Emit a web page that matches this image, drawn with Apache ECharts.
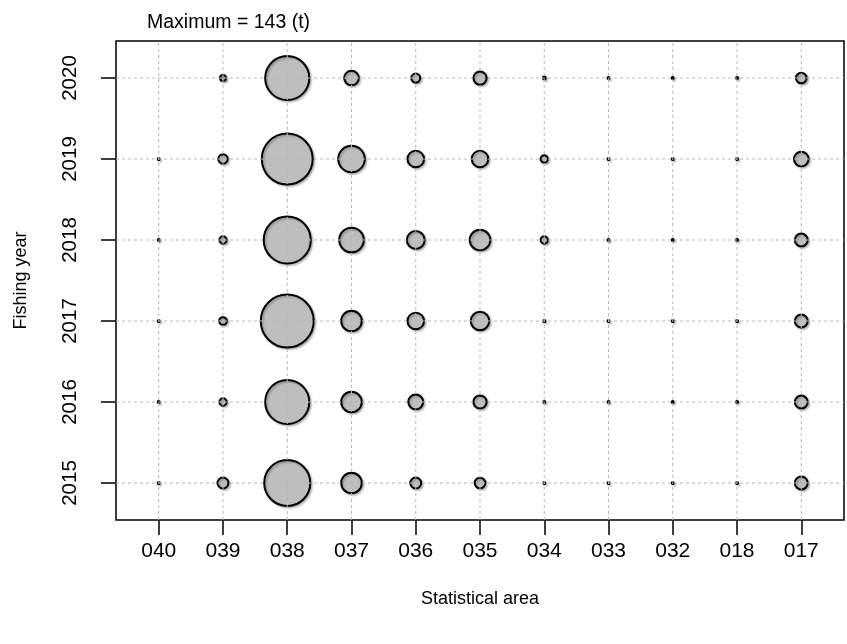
<!DOCTYPE html>
<html>
<head>
<meta charset="utf-8">
<script src="https://cdn.jsdelivr.net/npm/echarts@6/dist/echarts.min.js"></script>
<style>
  html, body { margin: 0; padding: 0; background: #fff; }
  #chart { width: 847px; height: 644px; }
</style>
</head>
<body>
<div id="chart"></div>
<script>
// Statistical areas along the x axis (left to right)
const areas = ['040', '039', '038', '037', '036', '035', '034', '033', '032', '018', '017'];
// Fishing years along the y axis
const years = [2015, 2016, 2017, 2018, 2019, 2020];

// Catch (t) per statistical area, one array per fishing year (null = no catch)
const catch2015 = [0.2, 6.1, 108, 21.6, 6.1, 5.8, 0.2, 0.2, 0.2, 0.2, 8.5];
const catch2016 = [0.2, 2.7, 99, 21.6, 11.3, 8.9, 0.2, 0.2, 0.2, 0.2, 8.5];
const catch2017 = [0.2, 3.0, 143, 21.6, 14, 17.6, 0.25, 0.2, 0.2, 0.2, 8.5];
const catch2018 = [0.2, 2.7, 113, 30.7, 16.3, 21.6, 2.7, 0.2, 0.2, 0.2, 8.5];
const catch2019 = [0.2, 4.4, 132, 35.9, 14, 14, 2.7, 0.2, 0.2, 0.2, 10.9];
const catch2020 = [null, 1.8, 99, 10.9, 4.1, 8.9, 0.4, 0.2, 0.2, 0.2, 5.8];

const catchByYear = [catch2015, catch2016, catch2017, catch2018, catch2019, catch2020];

const points = [];
catchByYear.forEach((row, yi) => {
  row.forEach((v, xi) => {
    if (v !== null && v > 0) points.push([xi, years[yi], v]);
  });
});
const maxCatch = Math.max(...points.map(p => p[2]));

// bubble area proportional to catch
const maxDiameter = 53;
const sizeOf = v => maxDiameter * Math.sqrt(v / maxCatch);

const font = "'Liberation Sans', Arial, Helvetica, sans-serif";
const areaIdx = areas.map((_, i) => i);

// axis extents (a little padding around the outer categories)
const xMin = -0.665, xMax = areas.length - 1 + 0.665;
const yMin = years[0] - 0.457, yMax = years[years.length - 1] + 0.457;

const gridStyle = { color: '#b8b8b8', width: 1, type: [3, 3] };
const gridSeries = areaIdx.map(i => ({
  type: 'line', z: 3, silent: true, symbol: 'none',
  lineStyle: gridStyle, data: [[i, yMin], [i, yMax]]
})).concat(years.map(y => ({
  type: 'line', z: 3, silent: true, symbol: 'none',
  lineStyle: gridStyle, data: [[xMin, y], [xMax, y]]
})));

const chart = echarts.init(document.getElementById('chart'), null, { renderer: 'canvas' });
chart.setOption({
  animation: false,
  backgroundColor: '#ffffff',
  title: {
    text: 'Maximum = ' + Math.round(maxCatch) + ' (t)',
    left: 142,
    top: 8,
    textStyle: { fontFamily: font, fontSize: 19.5, fontWeight: 'normal', color: '#000' }
  },
  grid: {
    left: 116, right: 3, top: 41, bottom: 124,
    show: true, borderColor: '#000', borderWidth: 1.5, backgroundColor: 'transparent'
  },
  xAxis: {
    type: 'value',
    position: 'bottom',
    min: xMin, max: xMax,
    name: 'Statistical area',
    nameLocation: 'middle',
    nameGap: 70,
    nameTextStyle: { fontFamily: font, fontSize: 18, color: '#000' },
    axisLine: { show: false, onZero: false },
    splitLine: { show: false },
    axisTick: { show: true, length: 15, inside: false, customValues: areaIdx, lineStyle: { color: '#000', width: 1.5 } },
    axisLabel: {
      customValues: areaIdx,
      margin: 21,
      fontFamily: font, fontSize: 21, color: '#000',
      formatter: v => areas[Math.round(v)] || ''
    }
  },
  yAxis: {
    type: 'value',
    position: 'left',
    min: yMin, max: yMax,
    name: 'Fishing year',
    nameLocation: 'middle',
    nameGap: 86,
    nameRotate: 90,
    nameTextStyle: { fontFamily: font, fontSize: 18, color: '#000' },
    axisLine: { show: false, onZero: false },
    splitLine: { show: false },
    axisTick: { show: true, length: 15, inside: false, customValues: years, lineStyle: { color: '#000', width: 1.5 } },
    axisLabel: {
      customValues: years,
      rotate: 90,
      margin: 35,
      fontFamily: font, fontSize: 20.5, color: '#000',
      formatter: v => String(Math.round(v))
    }
  },
  series: [
    {
      type: 'scatter',
      z: 2,
      data: points,
      symbol: 'circle',
      symbolSize: d => sizeOf(d[2]),
      itemStyle: {
        color: '#bebebe',
        borderColor: '#000',
        borderWidth: 2,
        opacity: 1,
        shadowColor: 'rgba(0,0,0,0.25)',
        shadowBlur: 2,
        shadowOffsetX: 1.5,
        shadowOffsetY: 1.5
      },
      emphasis: { disabled: true }
    }
  ].concat(gridSeries)
});
</script>
</body>
</html>
